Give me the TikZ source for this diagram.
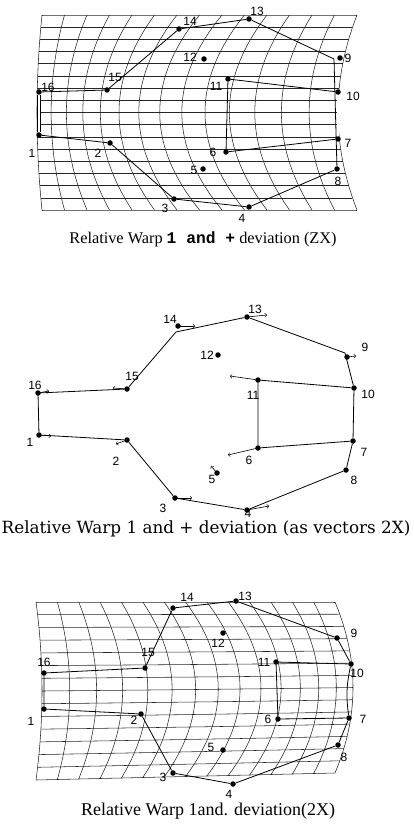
\documentclass[tikz,border=0pt]{standalone}
\usepackage{fontspec}
\setmainfont{Liberation Serif}
\setsansfont{Liberation Sans}
\setmonofont{Liberation Mono}
\newfontfamily\schoolfont{DejaVu Serif}
\usetikzlibrary{calc}

\tikzset{
  lm/.style={circle, fill, inner sep=0pt, minimum size=5.5pt},
  num/.style={inner sep=0pt, font=\sffamily\fontsize{12}{12}\selectfont},
  outline/.style={line width=0.8pt},
  gridline/.style={line width=0.55pt, black!85},
  shiftarrow/.style={->, line width=0.6pt},
  caption/.style={inner sep=0pt, font=\fontsize{16.3}{16.3}\selectfont}
}

\begin{document}
\begin{tikzpicture}[x=1pt, y=-1pt]
  \useasboundingbox (0,0) rectangle (413,834);

  % warped grid, ZX
  \foreach \i in {0,...,14}{
    \pgfmathsetmacro\u{\i/14}
    \pgfmathsetmacro\b{5+125*\u-111*\u*\u}
    \draw[gridline] plot[domain=-1:1, samples=25, smooth]
      ({42+315*\u-\b*(1-(\x)*(\x))}, {112.5+97.5*(\x)});
  }
  \foreach \j in {0,...,16}{
    \pgfmathsetmacro\v{-1+\j/8}
    \pgfmathsetmacro\w{1-\v*\v}
    \draw[gridline] plot[domain=0:1, samples=25, smooth]
      ({42+315*(\x)-(5+125*(\x)-111*(\x)*(\x))*\w}, {112.5+97.5*\v});
  }

  \foreach \n/\p/\q in {1/{(39,135)}/{(32,153)}, 2/{(110,143)}/{(98,153)},
      3/{(174,199)}/{(165,208)}, 4/{(249,207)}/{(242,218)},
      5/{(203,169)}/{(194,170)}, 6/{(226,152)}/{(213,152)},
      7/{(338,139)}/{(348,143)}, 8/{(337,169)}/{(338,181)},
      9/{(340,58)}/{(348,58)}, 10/{(338,92)}/{(353,96)},
      11/{(228,79)}/{(216,86)}, 12/{(204,59)}/{(190,57)},
      13/{(249,19)}/{(257,11)}, 14/{(179,29)}/{(190,21)},
      15/{(107,90)}/{(115,77)}, 16/{(39,92)}/{(48,87)}}{
    \node[lm] (a\n) at \p {};
    \node[num] (na\n) at \q {\n};
  }
  \coordinate (a9c) at (334,59);
  \draw[outline] (a1) -- (a2) -- (a3) -- (a4) -- (a8) -- (a9c) -- (a13)
    -- (a14) -- (a15) -- (a16);
  \draw[outline] (a6) -- (a11) -- (a10);
  \draw[outline] (a6) -- (a7);
  \draw[outline, double, double distance=1.6pt] (a16) -- (a1);
  \draw[outline, double, double distance=1.2pt] (a10) -- (a7);

  \node[caption] (capa) at (203,239)
    {Relative Warp {\ttfamily\bfseries 1 and +} deviation (ZX)};

  % vectors, 2X
  \foreach \n/\p/\q in {1/{(39,435)}/{(30,442)}, 2/{(127,440)}/{(116,461)},
      3/{(175,498)}/{(163,508)}, 4/{(247,510)}/{(248,513)},
      5/{(217,473)}/{(212,479)}, 6/{(258,448)}/{(249,460)},
      7/{(353,441)}/{(364,452)}, 8/{(346,470)}/{(354,480)},
      9/{(347,357)}/{(365,347)}, 10/{(354,388)}/{(368,394)},
      11/{(258,380)}/{(253,395)}, 12/{(218,355)}/{(207,355)},
      13/{(247,317)}/{(255,309)}, 14/{(178,326)}/{(170,319)},
      15/{(127,389)}/{(132,376)}, 16/{(38,393)}/{(35,385)}}{
    \node[lm] (b\n) at \p {};
    \node[num] (nb\n) at \q {\n};
  }
  \coordinate (b14c) at (176,332);
  \coordinate (b9c) at (345,353);
  \draw[outline] (b16) -- (b15) -- (b14c) -- (b13) -- (b9c) -- (b10) -- (b7)
    -- (b8) -- (b4) -- (b3) -- (b2) -- (b1) -- (b16);
  \draw[outline] (b10) -- (b11) -- (b6) -- (b7);

  \coordinate (e1) at (51,436);
  \coordinate (e16) at (49,391);
  \coordinate (e15) at (113,388);
  \coordinate (e2) at (116,444);
  \coordinate (e14) at (195,326);
  \coordinate (e3) at (192,498);
  \coordinate (e4) at (269,506);
  \coordinate (e5) at (211,466);
  \coordinate (e13) at (267,315);
  \coordinate (e11) at (230,376);
  \coordinate (e6) at (228,455);
  \coordinate (e9) at (356,356);
  \draw[shiftarrow] (b1.center) -- (e1);
  \draw[shiftarrow] (b16.center) -- (e16);
  \draw[shiftarrow] (b15.center) -- (e15);
  \draw[shiftarrow] (b2.center) -- (e2);
  \draw[shiftarrow] (b14.center) -- (e14);
  \draw[shiftarrow] (b3.center) -- (e3);
  \draw[shiftarrow] (b4.center) -- (e4);
  \draw[shiftarrow] (b5.center) -- (e5);
  \draw[shiftarrow] (b13.center) -- (e13);
  \draw[shiftarrow] (b11.center) -- (e11);
  \draw[shiftarrow] (b6.center) -- (e6);
  \draw[shiftarrow] (b9.center) -- (e9);

  \node[caption, font=\schoolfont\fontsize{16.8}{16.8}\selectfont] (capb) at (206,529)
    {Relative Warp 1 and + deviation (as vectors 2X)};

  % warped grid, 2X
  \foreach \i in {0,...,14}{
    \pgfmathsetmacro\u{\i/14}
    \pgfmathsetmacro\b{6+95*\u-83*\u*\u}
    \draw[gridline] plot[domain=-1:1, samples=25, smooth]
      ({36+299*\u+\b*(1-(\x)*(\x))}, {602+((\x)+1)*(89-3.5*\u)});
  }
  \foreach \j in {0,...,14}{
    \pgfmathsetmacro\v{-1+\j/7}
    \pgfmathsetmacro\w{1-\v*\v}
    \draw[gridline] plot[domain=0:1, samples=25, smooth]
      ({36+299*(\x)+(6+95*(\x)-83*(\x)*(\x))*\w}, {602+(\v+1)*(89-3.5*(\x))});
  }

  \foreach \n/\p/\q in {1/{(44,709)}/{(31,721)}, 2/{(141,714)}/{(134,720)},
      3/{(173,773)}/{(163,777)}, 4/{(233,784)}/{(229,794)},
      5/{(223,750)}/{(211,747)}, 6/{(278,719)}/{(268,719)},
      7/{(349,718)}/{(363,719)}, 8/{(338,745)}/{(344,757)},
      9/{(337,638)}/{(354,633)}, 10/{(351,664)}/{(357,673)},
      11/{(276,662)}/{(264,662)}, 12/{(223,633)}/{(218,643)},
      13/{(236,601)}/{(245,596)}, 14/{(173,608)}/{(187,597)},
      15/{(145,668)}/{(148,652)}, 16/{(44,673)}/{(44,662)}}{
    \node[lm] (c\n) at \p {};
    \node[num] (nc\n) at \q {\n};
  }
  \draw[outline] (c1) -- (c2) -- (c3) -- (c4) -- (c8) -- (c7);
  \draw[outline] (c7) to[bend left=10] (c10);
  \draw[outline] (c10) -- (c9) -- (c13) -- (c14) -- (c15) -- (c16) -- (c1);
  \draw[outline] (c10) -- (c11) -- (c6) -- (c7);

  \node[caption, font=\fontsize{18}{18}\selectfont] (capc) at (208,811)
    {Relative Warp 1and. deviation(2X)};
\end{tikzpicture}
\end{document}
